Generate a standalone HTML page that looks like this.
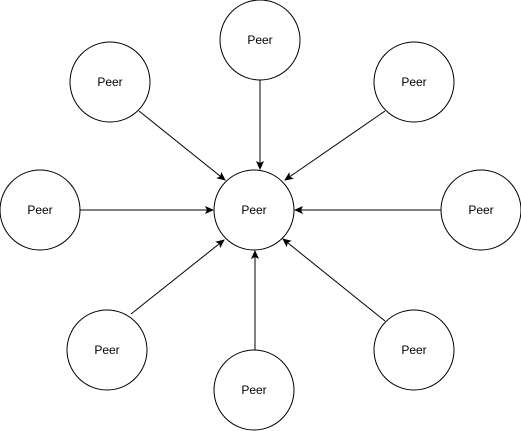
<!DOCTYPE html>
<html><head><style>body{margin:0;background:#fff}svg{display:block}</style></head><body>
<svg width="521" height="431" xmlns="http://www.w3.org/2000/svg" font-family="Liberation Sans, sans-serif" font-size="12">
<defs><marker id="a" markerWidth="10" markerHeight="10" refX="8" refY="4" orient="auto" markerUnits="userSpaceOnUse"><path d="M0,0 L9,4 L0,8 L2,4 Z" fill="#000"/></marker></defs>
<g stroke="#000" stroke-width="1" marker-end="url(#a)">
<line x1="260" y1="80" x2="260" y2="169"/>
<line x1="139" y1="111" x2="225" y2="180"/>
<line x1="385" y1="111" x2="285" y2="180"/>
<line x1="80" y1="210" x2="213" y2="210"/>
<line x1="441" y1="210" x2="295" y2="210"/>
<line x1="131" y1="314" x2="224" y2="240"/>
<line x1="255" y1="350" x2="255" y2="251"/>
<line x1="385" y1="321" x2="283" y2="239"/>
</g>
<g fill="#fff" stroke="#000">
<circle cx="254" cy="210" r="40"/><circle cx="260" cy="40" r="40"/><circle cx="110" cy="82" r="40"/><circle cx="414" cy="82" r="40"/><circle cx="40" cy="210" r="40"/><circle cx="481" cy="210" r="40"/><circle cx="107" cy="350" r="40"/><circle cx="254" cy="390" r="40"/><circle cx="414" cy="350" r="40"/>
</g>
<g text-anchor="middle" fill="#000">
<text x="254" y="214">Peer</text><text x="260" y="44">Peer</text><text x="110" y="86">Peer</text><text x="414" y="86">Peer</text><text x="40" y="214">Peer</text><text x="481" y="214">Peer</text><text x="107" y="354">Peer</text><text x="254" y="394">Peer</text><text x="414" y="354">Peer</text>
</g>
</svg>
</body></html>
